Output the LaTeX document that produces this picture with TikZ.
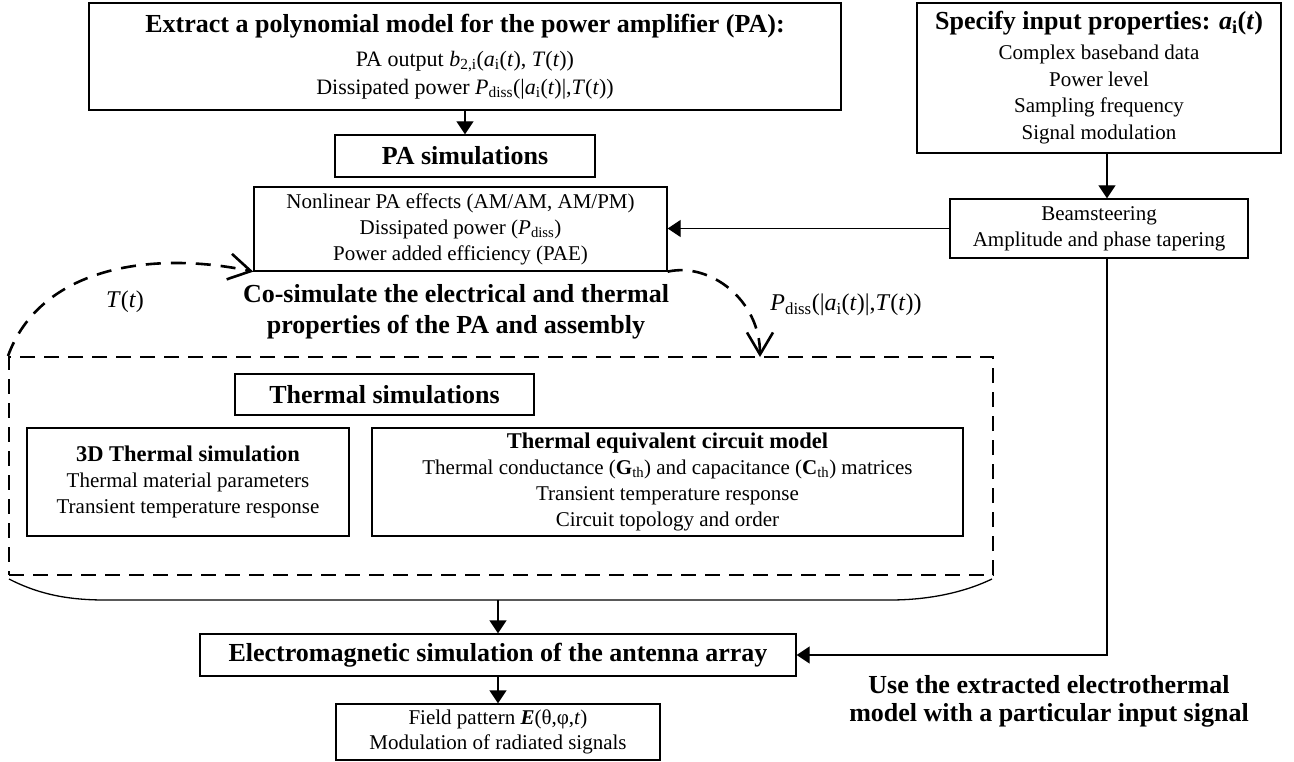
\documentclass[tikz,border=0pt]{standalone}
\usepackage{fontspec}
\setmainfont{Liberation Serif}
\usetikzlibrary{arrows.meta}
\newcommand\myreg{\fontsize{21}{26}\selectfont}
\newcommand\myhd{\fontsize{26}{31}\selectfont\bfseries}
\newcommand\mysubhd{\fontsize{22.5}{26}\selectfont\bfseries}
\newcommand\mylab{\fontsize{24}{28}\selectfont}
\begin{document}
\begin{tikzpicture}[x=1pt,y=-1pt,
  box/.style={draw, line width=1.3pt, inner sep=0pt, align=center, font=\myreg},
  plain/.style={inner sep=0pt, align=center},
  arr/.style={line width=1.3pt, -{Triangle[length=13pt,width=17pt]}},
  dasharr/.style={line width=2.6pt, dash pattern=on 15pt off 10pt, -{Straight Barb[length=22pt,width=26pt,line width=2.6pt]}},
  dbox/.style={draw, line width=2pt, dash pattern=on 15pt off 9pt, inner sep=0pt}]
\useasboundingbox (0,0) rectangle (1294,762);

% top-left box
\node[box, minimum width=752pt, minimum height=107pt] (extract) at (465,56.5)
  {{\myhd Extract a polynomial model for the power amplifier (PA):}\\[8pt]
   {\fontsize{22}{29}\selectfont PA output \textit{b}\textsubscript{2,i}(\textit{a}\textsubscript{i}(\textit{t}), \textit{T}(\textit{t}))}\\[1.5pt]
   {\fontsize{22}{29}\selectfont Dissipated power \textit{P}\textsubscript{diss}(|\textit{a}\textsubscript{i}(\textit{t})|,\textit{T}(\textit{t}))}};

% top-right box
\node[box, minimum width=364pt, minimum height=150pt] (spec) at (1099,78)
  {{\myhd Specify input properties: \textit{a}\textsubscript{i}(\textit{t})}\\[4pt]
   Complex baseband data\\[0.5pt] Power level\\[0.5pt] Sampling frequency\\[1pt] Signal modulation};

\node[box, minimum width=298pt, minimum height=59pt] (beam) at (1099,228.5)
  {Beamsteering\\ Amplitude and phase tapering};

\node[box, minimum width=260pt, minimum height=42pt, font=\myhd] (pasim) at (465,156) {PA simulations};

\node[box, minimum width=413pt, minimum height=84pt] (nl) at (460.5,229)
  {Nonlinear PA effects (AM/AM, AM/PM)\\ Dissipated power (\textit{P}\textsubscript{diss})\\ Power added efficiency (PAE)};

\node[plain, font=\myhd] (cotext) at (456,311.5)
  {Co-simulate the electrical and thermal\\ properties of the PA and assembly};

% dashed co-simulation region
\node[dbox, minimum width=984pt, minimum height=218pt] (cosim) at (501,466) {};

\node[box, minimum width=299pt, minimum height=41pt, font=\myhd] (thsim) at (384.5,394.5) {Thermal simulations};

\node[box, minimum width=322pt, minimum height=108pt] (th3d) at (188,482)
  {{\mysubhd 3D Thermal simulation}\\ Thermal material parameters\\ Transient temperature response};

\node[box, minimum width=591pt, minimum height=108pt] (theq) at (667.5,482)
  {{\mysubhd Thermal equivalent circuit model}\\
   Thermal conductance (\textbf{G}\textsubscript{th}) and capacitance (\textbf{C}\textsubscript{th}) matrices\\
   Transient temperature response\\ Circuit topology and order};

% bottom
\node[box, minimum width=596pt, minimum height=42pt, font=\myhd] (em) at (498,655)
  {Electromagnetic simulation of the antenna array};

\node[box, minimum width=324pt, minimum height=56pt, font=\fontsize{21}{25}\selectfont] (field) at (498,732)
  {Field pattern \textbf{\textit{E}}(θ,φ,\textit{t})\\ Modulation of radiated signals};

\node[plain, font=\fontsize{26}{28}\selectfont\bfseries] (use) at (1049,701)
  {Use the extracted electrothermal\\ model with a particular input signal};

% labels
\node[plain, font=\mylab] (tlab) at (125,302) {\textit{T}(\textit{t})};
\node[plain, font=\mylab] (plab) at (846,305)
  {\textit{P}\textsubscript{diss}(|\textit{a}\textsubscript{i}(\textit{t})|,\textit{T}(\textit{t}))};

% helper coordinates
\coordinate (vx) at (1107,0);
\coordinate (ptip) at (760,357);
\coordinate (bb) at (498,600);

% connectors
\draw[arr] (extract.south) -- (pasim.north);
\draw[arr] (spec.south -| vx) -- (beam.north -| vx);
\draw[arr] (beam.west) -- (nl.east |- beam.west);
\draw[arr] (beam.south -| vx) |- (em.east);
\draw[arr] (bb) -- (em.north);
\draw[arr] (em.south) -- (field.north);

% feedback loops
\draw[dasharr] (cosim.north west) .. controls (40,268) and (150,250) .. (nl.south west);
\draw[dasharr] (nl.south east) .. controls (710,262) and (760,300) .. (ptip);

% brace under the dashed region
\draw[line width=1.3pt] (9,579) .. controls (40,595) and (70,600) .. (105,600) -- (bb) -- (890,600)
  .. controls (930,600) and (965,592) .. (992,579);
\end{tikzpicture}
\end{document}
